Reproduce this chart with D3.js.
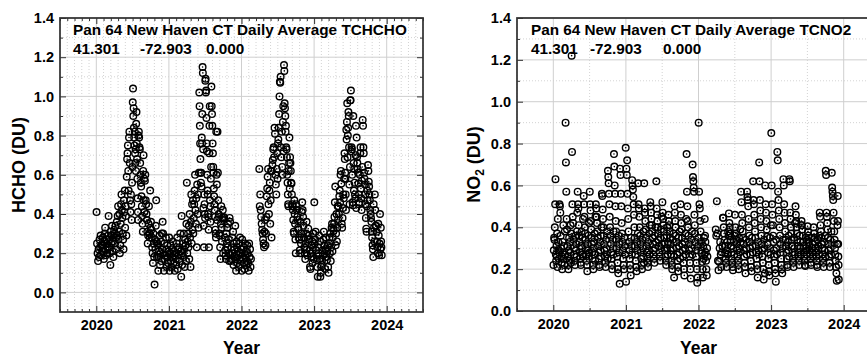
<!DOCTYPE html>
<html>
<head>
<meta charset="utf-8">
<script src="https://cdn.jsdelivr.net/npm/d3@7"></script>
<style>
body { margin: 0; background: #fff; }
text { font-family: "Liberation Sans", Arial, sans-serif; font-weight: bold; }
</style>
</head>
<body>
<svg id="chart" width="867" height="359"></svg>
<script>
// daily averages, grouped by month: [monthStart, monthEnd, values]
const hcho2020 = [
  [0, 1, [0.41,0.25,0.20,0.16,0.22,0.18,0.27,0.23,0.29,0.19,0.24,0.21]],
  [1, 2, [0.24,0.28,0.21,0.17,0.26,0.30,0.33,0.22,0.19,0.25,0.27,0.20,0.23,0.29]],
  [2, 3, [0.39,0.27,0.23,0.20,0.14,0.31,0.25,0.29,0.34,0.21,0.26,0.18,0.28,0.32]],
  [3, 4, [0.30,0.25,0.34,0.28,0.22,0.36,0.29,0.39,0.44,0.27,0.31,0.40,0.20,0.24]],
  [4, 5, [0.35,0.45,0.50,0.42,0.38,0.30,0.27,0.22,0.47,0.41,0.52,0.33,0.44,0.39,0.29]],
  [5, 6, [0.59,0.68,0.71,0.75,0.62,0.52,0.79,0.82,0.66,0.47,0.41,0.50,0.45,0.37,0.56,0.64]],
  [6, 7, [0.97,1.04,0.90,0.94,0.84,0.79,0.75,0.82,0.71,0.66,0.73,0.62,0.86,0.92,0.76,0.68,0.58,0.48,0.41,0.37,0.80]],
  [7, 8, [0.82,0.79,0.74,0.73,0.66,0.60,0.56,0.54,0.49,0.44,0.39,0.35,0.31,0.62,0.70,0.47,0.58,0.41]],
  [8, 9, [0.57,0.60,0.47,0.45,0.40,0.37,0.31,0.25,0.29,0.35,0.44,0.30,0.28,0.52,0.33]],
  [9, 10, [0.36,0.32,0.28,0.23,0.20,0.15,0.30,0.25,0.18,0.04,0.27,0.22,0.34,0.47,0.26]],
  [10, 11, [0.18,0.25,0.24,0.11,0.18,0.21,0.29,0.14,0.20,0.26,0.16,0.30,0.22,0.36]],
  [11, 12, [0.30,0.20,0.11,0.25,0.17,0.19,0.28,0.22,0.13,0.24,0.18,0.15,0.21]]
];
const hcho2021 = [
  [0, 1, [0.28,0.11,0.20,0.24,0.16,0.13,0.22,0.18,0.26,0.15,0.21,0.19,0.11]],
  [1, 2, [0.20,0.17,0.14,0.25,0.28,0.12,0.22,0.19,0.23,0.16,0.30,0.21]],
  [2, 3, [0.08,0.39,0.14,0.20,0.25,0.18,0.30,0.22,0.13,0.27,0.24,0.16,0.35,0.56]],
  [3, 4, [0.20,0.26,0.30,0.23,0.34,0.17,0.40,0.28,0.13,0.36,0.50,0.25,0.45,0.32,0.47]],
  [4, 5, [0.30,0.38,0.45,0.52,0.60,0.42,0.35,0.48,0.23,0.55,0.40,0.50,0.33,0.61]],
  [5, 6, [1.02,0.95,0.85,0.76,0.68,0.61,0.56,0.61,0.54,0.79,0.76,0.91,1.15,1.12,0.73,0.43,0.34,0.23,0.50,0.45,0.40,0.38]],
  [6, 7, [1.08,1.09,1.02,1.03,0.89,0.76,0.72,0.60,0.52,0.50,0.40,0.385,0.32,0.23,0.71,0.85,0.95,0.47,0.44,0.36,0.58,0.64]],
  [7, 8, [1.05,0.95,0.91,0.85,0.76,0.71,0.64,0.61,0.53,0.49,0.45,0.42,0.385,0.32,0.30,0.28,0.82,0.60,0.55,0.37]],
  [8, 9, [0.82,0.61,0.47,0.40,0.385,0.30,0.29,0.23,0.17,0.35,0.44,0.33,0.26,0.38,0.42,0.20]],
  [9, 10, [0.385,0.37,0.38,0.28,0.215,0.19,0.17,0.30,0.25,0.33,0.23,0.35,0.20,0.27,0.16]],
  [10, 11, [0.38,0.36,0.19,0.16,0.17,0.23,0.28,0.20,0.31,0.14,0.25,0.22,0.18,0.34]],
  [11, 12, [0.17,0.11,0.26,0.23,0.15,0.21,0.19,0.13,0.25,0.17,0.28,0.20,0.16,0.22]]
];
const hcho2022 = [
  [0, 1, [0.11,0.27,0.20,0.17,0.23,0.15,0.12,0.25,0.19,0.21,0.14,0.16,0.24]],
  [1, 1.6, [0.20,0.15,0.11,0.25,0.18,0.22,0.13,0.17]],
  [2.9, 4, [0.63,0.44,0.50,0.42,0.385,0.35,0.32,0.30,0.27,0.25,0.23,0.31,0.37,0.24]],
  [4, 5, [0.30,0.385,0.49,0.53,0.59,0.63,0.45,0.40,0.52,0.56,0.35,0.47,0.62,0.28]],
  [5, 6, [0.62,0.65,0.675,0.73,0.74,0.69,0.84,0.81,0.60,0.55,0.50,0.63,0.71,0.58]],
  [6, 7, [0.76,0.78,0.84,0.91,1.00,1.075,1.07,1.10,0.74,0.69,0.82,0.64,0.60,0.87,0.95,0.72]],
  [7, 8, [1.16,1.13,0.965,0.94,0.90,0.82,0.85,0.74,0.73,0.69,0.60,0.56,0.50,0.45,0.44,0.62,0.66,0.79,0.53]],
  [8, 9, [0.69,0.66,0.62,0.56,0.555,0.50,0.45,0.44,0.42,0.37,0.31,0.30,0.47,0.40,0.35,0.27,0.20]],
  [9, 10, [0.45,0.44,0.42,0.385,0.37,0.33,0.32,0.28,0.27,0.215,0.20,0.36,0.25,0.30,0.41]],
  [10, 11, [0.46,0.42,0.385,0.34,0.28,0.23,0.20,0.17,0.25,0.30,0.36,0.22,0.19,0.27]],
  [11, 12, [0.325,0.29,0.27,0.215,0.13,0.12,0.20,0.24,0.18,0.26,0.15,0.23,0.30,0.17]]
];
const hcho2023 = [
  [0, 1, [0.46,0.25,0.27,0.31,0.215,0.19,0.165,0.13,0.08,0.23,0.20,0.29,0.17,0.26]],
  [1, 2, [0.08,0.10,0.13,0.14,0.165,0.215,0.19,0.27,0.31,0.24,0.20,0.12,0.22,0.28]],
  [2, 3, [0.18,0.165,0.21,0.24,0.13,0.10,0.25,0.28,0.20,0.30,0.16,0.23,0.33,0.35]],
  [3, 4, [0.21,0.28,0.325,0.315,0.35,0.385,0.46,0.54,0.24,0.30,0.40,0.26,0.33,0.44,0.37]],
  [4, 5, [0.44,0.40,0.49,0.52,0.46,0.60,0.62,0.555,0.35,0.33,0.38,0.43,0.50,0.48,0.58]],
  [5, 6, [0.71,0.68,0.61,0.58,0.50,0.42,0.83,0.78,0.87,0.965,0.69,0.80,0.84,0.92,0.90,0.74,0.55,0.45,0.64,0.98]],
  [6, 7, [0.98,1.03,0.72,0.74,0.73,0.60,0.46,0.445,0.90,0.66,0.52,0.63,0.56,0.50,0.48,0.70,0.85,0.43]],
  [7, 8, [0.79,0.69,0.66,0.63,0.61,0.555,0.50,0.45,0.46,0.60,0.71,0.74,0.53,0.48,0.42,0.57,0.64]],
  [8, 9, [0.88,0.85,0.74,0.71,0.61,0.58,0.55,0.50,0.45,0.38,0.325,0.31,0.44,0.52,0.47,0.65,0.62]],
  [9, 10, [0.565,0.54,0.50,0.47,0.42,0.40,0.38,0.36,0.31,0.28,0.24,0.22,0.18,0.45,0.33,0.26]],
  [10, 11, [0.50,0.42,0.34,0.34,0.31,0.26,0.23,0.20,0.35,0.29,0.19,0.25,0.40,0.22]],
  [11, 11.2, [0.33,0.26,0.23,0.19]]
];

const no2_2020 = [
  [0, 1, [0.22,0.29,0.35,0.34,0.40,0.51,0.63,0.27,0.24,0.31,0.26,0.37,0.21,0.44,0.33,0.29,0.25,0.28]],
  [1, 2, [0.51,0.50,0.47,0.36,0.30,0.23,0.26,0.20,0.33,0.28,0.41,0.25,0.31,0.22,0.38,0.27]],
  [2, 3, [0.90,0.71,0.57,0.44,0.39,0.31,0.26,0.22,0.20,0.29,0.35,0.24,0.33,0.28,0.41,0.23,0.37]],
  [3, 4, [1.22,0.76,0.51,0.45,0.42,0.34,0.30,0.27,0.24,0.22,0.36,0.29,0.32,0.26,0.38,0.47]],
  [4, 5, [0.57,0.51,0.49,0.41,0.36,0.33,0.28,0.25,0.23,0.22,0.31,0.38,0.30,0.27,0.35,0.44,0.26]],
  [5, 6, [0.55,0.51,0.45,0.40,0.37,0.34,0.30,0.27,0.24,0.22,0.19,0.32,0.29,0.36,0.26,0.42,0.28]],
  [6, 7, [0.57,0.51,0.48,0.43,0.39,0.35,0.32,0.28,0.25,0.22,0.20,0.30,0.33,0.27,0.37,0.24,0.45]],
  [7, 8, [0.51,0.49,0.45,0.42,0.38,0.35,0.31,0.28,0.25,0.22,0.21,0.33,0.29,0.36,0.26,0.40]],
  [8, 9, [0.56,0.55,0.485,0.44,0.40,0.36,0.32,0.29,0.26,0.23,0.21,0.34,0.30,0.27,0.38,0.25]],
  [9, 10, [0.67,0.64,0.61,0.56,0.51,0.45,0.40,0.36,0.32,0.28,0.25,0.22,0.20,0.34,0.30,0.27,0.38]],
  [10, 11, [0.75,0.69,0.60,0.56,0.50,0.43,0.38,0.34,0.30,0.26,0.23,0.20,0.18,0.36,0.28,0.32,0.13]],
  [11, 12, [0.68,0.65,0.56,0.50,0.42,0.37,0.33,0.29,0.25,0.22,0.20,0.35,0.31,0.27,0.78]]
];
const no2_2021 = [
  [0, 1, [0.14,0.68,0.65,0.72,0.56,0.49,0.44,0.38,0.33,0.29,0.25,0.22,0.20,0.17,0.35,0.31,0.27]],
  [1, 2, [0.625,0.60,0.58,0.545,0.51,0.46,0.40,0.35,0.31,0.27,0.24,0.21,0.19,0.33,0.29,0.37]],
  [2, 3, [0.61,0.51,0.49,0.45,0.40,0.36,0.32,0.28,0.25,0.22,0.20,0.34,0.30,0.26,0.38,0.23]],
  [3, 4, [0.61,0.49,0.47,0.43,0.39,0.35,0.31,0.28,0.25,0.23,0.21,0.33,0.29,0.37,0.27,0.41]],
  [4, 5, [0.52,0.50,0.47,0.44,0.41,0.38,0.35,0.32,0.29,0.27,0.25,0.23,0.36,0.30,0.40,0.33]],
  [5, 6, [0.62,0.49,0.46,0.43,0.40,0.37,0.34,0.31,0.28,0.26,0.24,0.35,0.39,0.30,0.45,0.32]],
  [6, 7, [0.52,0.47,0.44,0.41,0.38,0.35,0.32,0.29,0.26,0.24,0.22,0.36,0.30,0.40,0.27,0.33]],
  [7, 8, [0.46,0.43,0.41,0.38,0.35,0.32,0.29,0.27,0.24,0.22,0.20,0.34,0.30,0.37,0.26,0.16]],
  [8, 9, [0.50,0.47,0.43,0.40,0.36,0.33,0.30,0.27,0.24,0.21,0.19,0.35,0.31,0.28,0.38,0.25]],
  [9, 10, [0.51,0.46,0.42,0.39,0.35,0.32,0.29,0.26,0.23,0.20,0.17,0.33,0.30,0.37,0.27,0.44]],
  [10, 11, [0.75,0.57,0.50,0.43,0.40,0.36,0.32,0.29,0.26,0.23,0.20,0.155,0.34,0.30,0.38,0.27]],
  [11, 12, [0.70,0.64,0.62,0.59,0.57,0.46,0.41,0.37,0.33,0.29,0.26,0.23,0.20,0.135,0.16,0.31,0.35]]
];
const no2_2022 = [
  [0, 1, [0.90,0.57,0.51,0.49,0.43,0.38,0.33,0.29,0.275,0.235,0.20,0.16,0.31,0.25,0.35,0.27]],
  [1, 1.5, [0.44,0.36,0.33,0.28,0.24,0.20,0.17,0.30,0.26]],
  [2.8, 4, [0.39,0.36,0.525,0.37,0.24,0.195,0.235,0.30,0.33,0.27,0.21,0.28,0.31]],
  [4, 5, [0.445,0.445,0.40,0.37,0.34,0.31,0.275,0.25,0.23,0.21,0.29,0.33,0.27,0.38,0.36]],
  [5, 6, [0.466,0.42,0.40,0.37,0.34,0.31,0.28,0.25,0.23,0.21,0.195,0.30,0.33,0.27,0.36]],
  [6, 7, [0.46,0.40,0.37,0.34,0.32,0.29,0.26,0.24,0.22,0.20,0.35,0.30,0.28,0.39,0.33]],
  [7, 8, [0.57,0.52,0.46,0.42,0.38,0.35,0.32,0.29,0.26,0.23,0.21,0.18,0.34,0.30,0.27]],
  [8, 9, [0.57,0.545,0.53,0.50,0.44,0.40,0.36,0.33,0.30,0.27,0.24,0.21,0.19,0.35,0.31,0.28]],
  [9, 10, [0.62,0.53,0.51,0.46,0.42,0.38,0.35,0.31,0.28,0.25,0.22,0.20,0.16,0.33,0.29,0.27]],
  [10, 11, [0.71,0.62,0.53,0.48,0.44,0.40,0.36,0.32,0.29,0.26,0.23,0.20,0.15,0.34,0.30,0.18]],
  [11, 12, [0.60,0.51,0.47,0.43,0.39,0.355,0.32,0.28,0.25,0.22,0.19,0.17,0.35,0.30,0.27,0.41]]
];
const no2_2023 = [
  [0, 1, [0.85,0.60,0.51,0.46,0.41,0.36,0.33,0.29,0.26,0.23,0.20,0.18,0.14,0.34,0.30,0.27]],
  [1, 2, [0.76,0.72,0.57,0.53,0.48,0.44,0.40,0.36,0.32,0.28,0.25,0.22,0.20,0.18,0.30,0.34]],
  [2, 3, [0.63,0.60,0.51,0.47,0.42,0.38,0.34,0.31,0.28,0.25,0.22,0.21,0.33,0.29,0.36,0.26]],
  [3, 4, [0.63,0.62,0.47,0.44,0.40,0.37,0.34,0.31,0.28,0.25,0.23,0.21,0.35,0.30,0.27,0.42]],
  [4, 5, [0.50,0.46,0.43,0.40,0.37,0.34,0.31,0.28,0.26,0.24,0.22,0.36,0.30,0.33,0.27,0.41]],
  [5, 6, [0.43,0.41,0.39,0.36,0.33,0.31,0.28,0.26,0.24,0.22,0.215,0.35,0.30,0.27,0.34,0.29]],
  [6, 7, [0.405,0.38,0.36,0.33,0.31,0.29,0.27,0.25,0.23,0.22,0.35,0.30,0.28,0.32,0.26]],
  [7, 8, [0.40,0.37,0.35,0.33,0.30,0.28,0.26,0.24,0.22,0.21,0.34,0.31,0.29,0.27,0.36]],
  [8, 9, [0.47,0.45,0.41,0.38,0.35,0.32,0.30,0.27,0.25,0.23,0.21,0.33,0.29,0.36,0.26]],
  [9, 10, [0.67,0.65,0.47,0.45,0.42,0.39,0.35,0.32,0.29,0.26,0.23,0.21,0.34,0.30,0.27,0.38]],
  [10, 11, [0.66,0.59,0.57,0.55,0.53,0.47,0.43,0.38,0.34,0.30,0.27,0.24,0.21,0.18,0.145,0.32,0.41]],
  [11, 11.2, [0.55,0.43,0.32,0.26,0.22,0.15]]
];

const yearTicks = [2020, 2021, 2022, 2023, 2024];
const yTicks = [0, 0.2, 0.4, 0.6, 0.8, 1.0, 1.2, 1.4];
const yMinorTicks = [-0.1, 0.1, 0.3, 0.5, 0.7, 0.9, 1.1, 1.3];

// spread each month's values over the days of that month
function expand(year, rows) {
  return rows.flatMap(([m0, m1, vals]) =>
    vals.map((v, i) => ({ t: year + (m0 + (i + 0.5) * (m1 - m0) / vals.length) / 12, v: v })));
}

const hcho = [].concat(expand(2020, hcho2020), expand(2021, hcho2021), expand(2022, hcho2022), expand(2023, hcho2023));
const no2 = [].concat(expand(2020, no2_2020), expand(2021, no2_2021), expand(2022, no2_2022), expand(2023, no2_2023));

const svg = d3.select("#chart");

function panel(o) {
  let x = d3.scaleLinear().domain([2019.5, 2024.5]).range([o.left, o.left + 5 * 72.6]);
  let y = d3.scaleLinear().domain(o.yDomain).range([o.bottom, o.top]);
  let right = x(2024.5);
  let g = svg.append("g");

  // minor grid (dotted)
  let xMinor = d3.range(2019.5, 2024.5001, o.minorStep).filter(d => Math.abs(d - Math.round(d)) > 1e-6);
  let yMinor = yMinorTicks.filter(d => d > o.yDomain[0]);
  g.selectAll(".gxm").data(xMinor).enter().append("line")
    .attr("x1", d => x(d)).attr("x2", d => x(d)).attr("y1", o.top).attr("y2", o.bottom)
    .attr("stroke", "#c8c8c8").attr("stroke-width", 0.8).attr("stroke-dasharray", "1,2");
  g.selectAll(".gym").data(yMinor).enter().append("line")
    .attr("x1", o.left).attr("x2", right).attr("y1", d => y(d)).attr("y2", d => y(d))
    .attr("stroke", "#c8c8c8").attr("stroke-width", 0.8).attr("stroke-dasharray", "1,2");
  // major grid
  g.selectAll(".gx").data(yearTicks).enter().append("line")
    .attr("x1", d => x(d)).attr("x2", d => x(d)).attr("y1", o.top).attr("y2", o.bottom)
    .attr("stroke", "#cfcfcf").attr("stroke-width", 1);
  g.selectAll(".gy").data(yTicks).enter().append("line")
    .attr("x1", o.left).attr("x2", right).attr("y1", d => y(d)).attr("y2", d => y(d))
    .attr("stroke", "#cfcfcf").attr("stroke-width", 1);

  // markers: open circle with a dot
  let pts = g.append("g");
  pts.selectAll("circle.o").data(o.data).enter().append("circle")
    .attr("cx", d => x(d.t)).attr("cy", d => y(d.v)).attr("r", 3.3)
    .attr("fill", "none").attr("stroke", "#000").attr("stroke-width", 1.4);
  pts.selectAll("circle.c").data(o.data).enter().append("circle")
    .attr("cx", d => x(d.t)).attr("cy", d => y(d.v)).attr("r", 0.8).attr("fill", "#000");

  // frame
  g.append("rect").attr("x", o.left).attr("y", o.top)
    .attr("width", right - o.left).attr("height", o.bottom - o.top)
    .attr("fill", "none").attr("stroke", "#3a3a3a").attr("stroke-width", 1.8);

  let clean = a => a.call(s => s.select(".domain").remove()).attr("color", "#333");

  // bottom axis
  g.append("g").attr("transform", "translate(0," + o.bottom + ")")
    .call(d3.axisBottom(x).tickValues(xMinor).tickSize(-3).tickFormat(""))
    .call(clean);
  let xb = g.append("g").attr("transform", "translate(0," + o.bottom + ")")
    .call(d3.axisBottom(x).tickValues(yearTicks).tickSize(-6).tickPadding(8).tickFormat(d3.format("d")))
    .call(clean);
  xb.selectAll("text").attr("font-size", 14.5).attr("font-family", null).attr("fill", "#000");

  // left axis
  g.append("g").attr("transform", "translate(" + o.left + ",0)")
    .call(d3.axisLeft(y).tickValues(yMinor).tickSize(-3).tickFormat(""))
    .call(clean);
  let yl = g.append("g").attr("transform", "translate(" + o.left + ",0)")
    .call(d3.axisLeft(y).tickValues(yTicks).tickSize(-6).tickPadding(6).tickFormat(d3.format(".1f")))
    .call(clean);
  yl.selectAll("text").attr("font-size", 14.5).attr("font-family", null).attr("fill", "#000");

  if (o.allSides) {
    g.append("g").attr("transform", "translate(0," + o.top + ")")
      .call(d3.axisTop(x).tickValues(xMinor).tickSize(-3).tickFormat("")).call(clean);
    g.append("g").attr("transform", "translate(0," + o.top + ")")
      .call(d3.axisTop(x).tickValues(yearTicks).tickSize(-6).tickFormat("")).call(clean);
    g.append("g").attr("transform", "translate(" + right + ",0)")
      .call(d3.axisRight(y).tickValues(yMinor).tickSize(-3).tickFormat("")).call(clean);
    g.append("g").attr("transform", "translate(" + right + ",0)")
      .call(d3.axisRight(y).tickValues(yTicks).tickSize(-6).tickFormat("")).call(clean);
  }

  // title and coordinates
  g.append("text").attr("x", o.titleX).attr("y", 35).attr("font-size", 15.3).text(o.title);
  o.coords.forEach((c, i) => {
    g.append("text").attr("x", o.coordX[i]).attr("y", 54).attr("font-size", 15.3).text(c);
  });

  // axis titles
  g.append("text").attr("x", x(2022)).attr("y", 354).attr("text-anchor", "middle")
    .attr("font-size", 17.5).text("Year");
  let yt = g.append("text")
    .attr("transform", "translate(" + o.yLabelX + "," + ((o.top + o.bottom) / 2) + ") rotate(-90)")
    .attr("text-anchor", "middle").attr("font-size", 18);
  o.yLabel(yt);
}

panel({
  left: 60, top: 18, bottom: 312, yDomain: [-0.1, 1.4], minorStep: 0.1, allSides: true,
  data: hcho, title: "Pan 64 New Haven CT Daily Average TCHCHO", titleX: 73,
  coords: ["41.301", "-72.903", "0.000"], coordX: [73, 140, 206], yLabelX: 25,
  yLabel: t => t.text("HCHO (DU)")
});

panel({
  left: 517, top: 18, bottom: 311, yDomain: [0, 1.4], minorStep: 0.5, allSides: false,
  data: no2, title: "Pan 64 New Haven CT Daily Average TCNO2", titleX: 531,
  coords: ["41.301", "-72.903", "0.000"], coordX: [531, 590, 663], yLabelX: 480,
  yLabel: t => {
    t.append("tspan").text("NO");
    t.append("tspan").attr("font-size", 12).attr("dy", 4).text("2");
    t.append("tspan").attr("dy", -4).text(" (DU)");
  }
});
</script>
</body>
</html>
